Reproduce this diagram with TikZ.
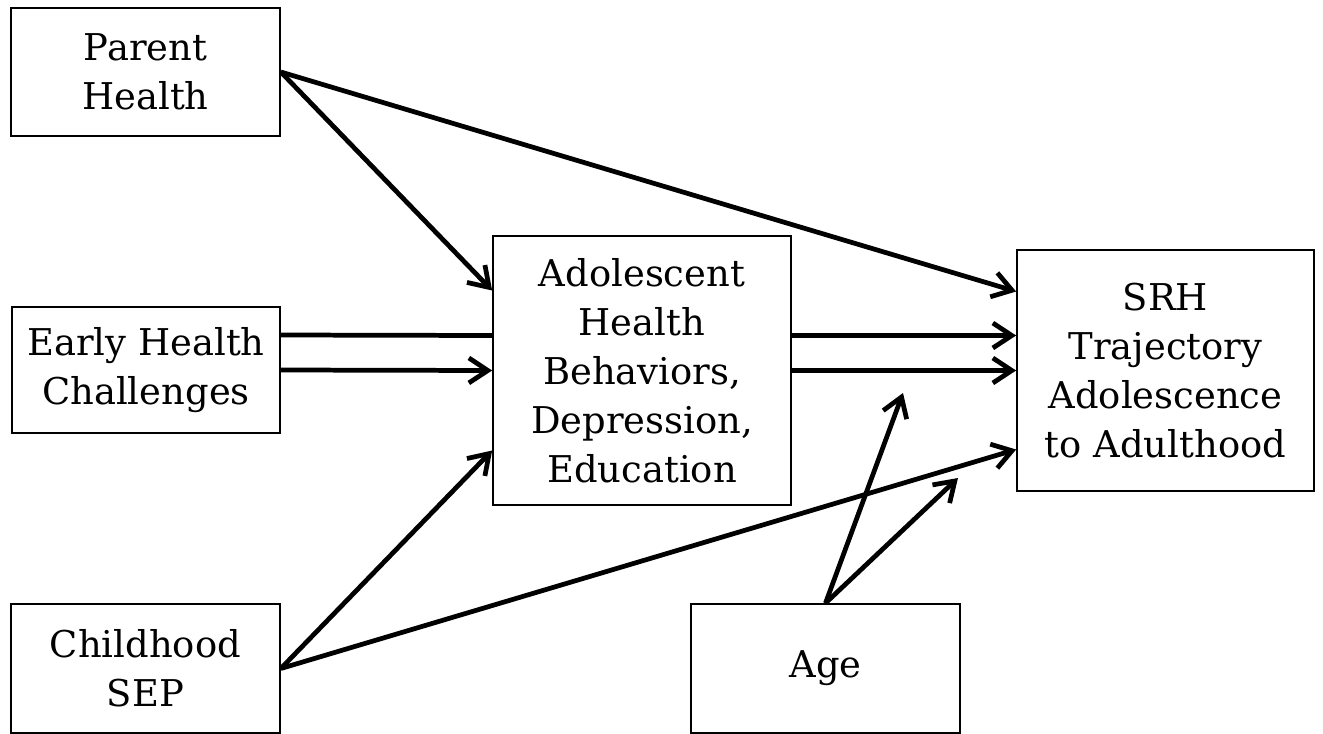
\documentclass[tikz,border=0pt]{standalone}
\usepackage{fontspec}
\setmainfont{DejaVu Serif}
\usetikzlibrary{arrows.meta,calc}
\tikzset{
        box/.style={draw, line width=1pt, align=center, inner sep=0pt,
                font=\fontsize{21}{27.9}\selectfont},
        link/.style={line width=2.7pt, -{Straight Barb[length=0.38cm,width=0.5cm]}},
        plain link/.style={line width=2.7pt},
}
\begin{document}
\begin{tikzpicture}[x=0.02cm, y=-0.02cm]
        \useasboundingbox (0,0) rectangle (1323,734);
        \node (parent) [box, minimum width=5.38cm, minimum height=2.56cm] at (145.5, 72) {Parent\\Health};
        \node (early) [box, minimum width=5.36cm, minimum height=2.52cm] at (146, 370) {Early Health\\Challenges};
        \node (child) [box, minimum width=5.38cm, minimum height=2.58cm] at (145.5, 668.5) {Childhood\\SEP};
        \node (adol) [box, minimum width=5.96cm, minimum height=5.38cm] at (642, 370.5) {Adolescent\\Health\\Behaviors,\\Depression,\\Education};
        \node (srh) [box, minimum width=5.94cm, minimum height=4.82cm] at (1165.5, 370.5) {SRH\\Trajectory\\Adolescence\\to Adulthood};
        \node (age) [box, minimum width=5.38cm, minimum height=2.58cm] at (825.5, 668.5) {Age};
        \coordinate (early-up) at ($(early.east)+(0,-35)$);
        \coordinate (adol-top) at ($(adol.west)+(0,-80)$);
        \coordinate (adol-up) at ($(adol.west)+(0,-35)$);
        \coordinate (adol-bot) at ($(adol.west)+(0,80)$);
        \coordinate (adol-out) at ($(adol.east)+(0,-35)$);
        \coordinate (srh-top) at ($(srh.west)+(0,-79)$);
        \coordinate (srh-up) at ($(srh.west)+(0,-35)$);
        \coordinate (srh-bot) at ($(srh.west)+(0,79)$);
        \coordinate (age-a) at (903, 393);
        \coordinate (age-b) at (958, 478);
        \draw (parent.east) edge [link] (adol-top);
        \draw (parent.east) edge [link] (srh-top);
        \draw (early-up) edge [plain link] (adol-up);
        \draw (early.east) edge [link] (adol.west);
        \draw (adol-out) edge [link] (srh-up);
        \draw (adol.east) edge [link] (srh.west);
        \draw (child.east) edge [link] (adol-bot);
        \draw (child.east) edge [link] (srh-bot);
        \draw (age.north) edge [link] (age-a);
        \draw (age.north) edge [link] (age-b);
\end{tikzpicture}
\end{document}
